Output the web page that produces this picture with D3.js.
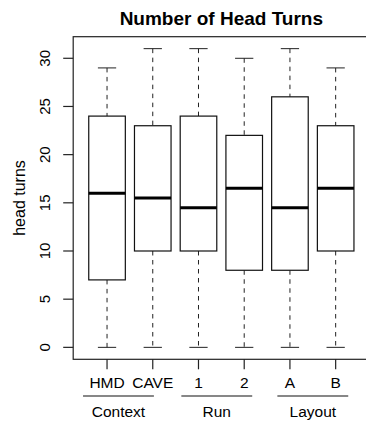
<!DOCTYPE html>
<html>
<head>
<meta charset="utf-8">
<script src="https://cdn.jsdelivr.net/npm/d3@7"></script>
<style>
  html, body { margin: 0; padding: 0; background: #fff; }
  svg { display: block; font-family: "Liberation Sans", Arial, sans-serif; }
</style>
</head>
<body>
<div id="chart"></div>
<script>
// Data
const categories = ["HMD", "CAVE", "1", "2", "A", "B"];
const whiskerLow = [0, 0, 0, 0, 0, 0];
const q1 = [7, 10, 10, 8, 8, 10];
const medians = [16, 15.5, 14.5, 16.5, 14.5, 16.5];
const q3 = [24, 23, 24, 22, 26, 23];
const whiskerHigh = [29, 31, 31, 30, 31, 29];
const yTicks = [0, 5, 10, 15, 20, 25, 30];
const groupNames = ["Context", "Run", "Layout"];
const groupCenters = [1.25, 3.4, 5.5]; // in category units
const groupHalfWidth = 0.775;

const W = 366, H = 421;
const plot = { left: 73.2, right: 369.5, top: 36.7, bottom: 359.3 };

const boxes = categories.map((c, i) => ({
  cat: c, pos: i + 1,
  lo: whiskerLow[i], q1: q1[i], med: medians[i], q3: q3[i], hi: whiskerHigh[i]
}));

// R-style 4% extension of the ranges
const yMin = d3.min(whiskerLow), yMax = d3.max(whiskerHigh);
const yPad = (yMax - yMin) * 0.04;
const y = d3.scaleLinear()
  .domain([yMin - yPad, yMax + yPad])
  .range([plot.bottom, plot.top]);

const xPad = (categories.length) * 0.04;
const x = d3.scaleLinear()
  .domain([0.5 - xPad, categories.length + 0.5 + xPad])
  .range([plot.left, plot.right]);

const unit = x(2) - x(1);
const boxW = unit * 0.8;
const capW = boxW * 0.5;

const svg = d3.select("#chart").append("svg")
  .attr("width", W)
  .attr("height", H);

// Title
svg.append("text")
  .attr("x", (plot.left + plot.right) / 2)
  .attr("y", 25)
  .attr("text-anchor", "middle")
  .attr("font-size", 19)
  .attr("font-weight", "bold")
  .text("Number of Head Turns");

// Frame
svg.append("rect")
  .attr("x", plot.left)
  .attr("y", plot.top)
  .attr("width", plot.right - plot.left)
  .attr("height", plot.bottom - plot.top)
  .attr("fill", "none")
  .attr("stroke", "#222")
  .attr("stroke-width", 1.2);

// Y axis ticks + labels
const yAxis = svg.append("g");
yAxis.selectAll("line")
  .data(yTicks)
  .join("line")
  .attr("x1", plot.left - 10)
  .attr("x2", plot.left)
  .attr("y1", d => y(d))
  .attr("y2", d => y(d))
  .attr("stroke", "#222")
  .attr("stroke-width", 1.2);
yAxis.selectAll("text")
  .data(yTicks)
  .join("text")
  .attr("transform", d => `translate(50, ${y(d)}) rotate(-90)`)
  .attr("text-anchor", "middle")
  .attr("font-size", 15)
  .text(d => d);

svg.append("text")
  .attr("transform", `translate(24.5, ${(plot.top + plot.bottom) / 2}) rotate(-90)`)
  .attr("text-anchor", "middle")
  .attr("font-size", 16)
  .text("head turns");

// Boxes
const g = svg.append("g").selectAll("g.box")
  .data(boxes)
  .join("g")
  .attr("class", "box");

// whiskers (dashed)
g.append("line")
  .attr("x1", d => x(d.pos)).attr("x2", d => x(d.pos))
  .attr("y1", d => y(d.hi)).attr("y2", d => y(d.q3))
  .attr("stroke", "#222").attr("stroke-dasharray", "4.5,4.5");
g.append("line")
  .attr("x1", d => x(d.pos)).attr("x2", d => x(d.pos))
  .attr("y1", d => y(d.q1)).attr("y2", d => y(d.lo))
  .attr("stroke", "#222").attr("stroke-dasharray", "4.5,4.5");

// staples
g.append("line")
  .attr("x1", d => x(d.pos) - capW / 2).attr("x2", d => x(d.pos) + capW / 2)
  .attr("y1", d => y(d.hi)).attr("y2", d => y(d.hi))
  .attr("stroke", "#222");
g.append("line")
  .attr("x1", d => x(d.pos) - capW / 2).attr("x2", d => x(d.pos) + capW / 2)
  .attr("y1", d => y(d.lo)).attr("y2", d => y(d.lo))
  .attr("stroke", "#222");

// box
g.append("rect")
  .attr("x", d => x(d.pos) - boxW / 2)
  .attr("width", boxW)
  .attr("y", d => y(d.q3))
  .attr("height", d => y(d.q1) - y(d.q3))
  .attr("fill", "#fff")
  .attr("stroke", "#111")
  .attr("stroke-width", 1.2);

// median
g.append("line")
  .attr("x1", d => x(d.pos) - boxW / 2).attr("x2", d => x(d.pos) + boxW / 2)
  .attr("y1", d => y(d.med)).attr("y2", d => y(d.med))
  .attr("stroke", "#000")
  .attr("stroke-width", 3);

// X axis ticks + labels
const xAxis = svg.append("g");
xAxis.selectAll("line")
  .data(boxes)
  .join("line")
  .attr("x1", d => x(d.pos)).attr("x2", d => x(d.pos))
  .attr("y1", plot.bottom).attr("y2", plot.bottom + 10)
  .attr("stroke", "#222")
  .attr("stroke-width", 1.2);
xAxis.selectAll("text")
  .data(boxes)
  .join("text")
  .attr("x", d => x(d.pos))
  .attr("y", 387.5)
  .attr("text-anchor", "middle")
  .attr("font-size", 15.5)
  .text(d => d.cat);

// Group underlines + labels
const grp = svg.append("g").selectAll("g")
  .data(groupNames.map((n, i) => ({ name: n, c: groupCenters[i] })))
  .join("g");
grp.append("line")
  .attr("x1", d => x(d.c - groupHalfWidth))
  .attr("x2", d => x(d.c + groupHalfWidth))
  .attr("y1", 396).attr("y2", 396)
  .attr("stroke", "#111")
  .attr("stroke-width", 1.2);
grp.append("text")
  .attr("x", d => x(d.c))
  .attr("y", 417)
  .attr("text-anchor", "middle")
  .attr("font-size", 15.5)
  .text(d => d.name);
</script>
</body>
</html>
